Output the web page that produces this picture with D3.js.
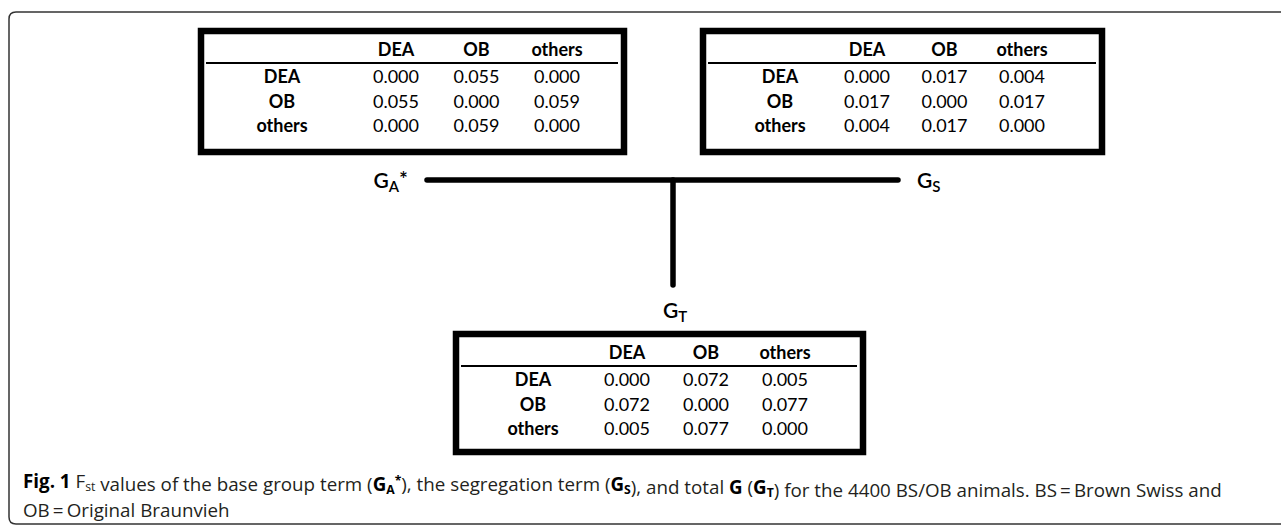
<!DOCTYPE html>
<html>
<head>
<meta charset="utf-8">
<script src="https://cdn.jsdelivr.net/npm/d3@7"></script>
<style>
body { margin: 0; background: #fff; }
svg { display: block; }
.cell { font-family: Lato, "Open Sans", sans-serif; font-size: 18px; fill: #000; }
.bold { font-weight: 700; }
.glabel { font-family: Lato, "Open Sans", sans-serif; font-size: 21px; font-weight: 600; fill: #000; }
.caption { font-family: "Open Sans", sans-serif; fill: #231f20; }
</style>
</head>
<body>
<svg id="fig" width="1281" height="525"></svg>
<script>
// breed groups (row and column headers of every table)
var groups = ["DEA", "OB", "others"];

// Fst values, rows and columns follow the groups order
var gaValues = [
	[0.000, 0.055, 0.000],
	[0.055, 0.000, 0.059],
	[0.000, 0.059, 0.000]
];
var gsValues = [
	[0.000, 0.017, 0.004],
	[0.017, 0.000, 0.017],
	[0.004, 0.017, 0.000]
];
var gtValues = [
	[0.000, 0.072, 0.005],
	[0.072, 0.000, 0.077],
	[0.005, 0.077, 0.000]
];

var captionLine2 = "OB = Original Braunvieh";

var svg = d3.select("#fig");
var fmt = d3.format(".3f");

// outer frame, only top and left side are inside the picture
svg.append("path")
	.attr("d", "M1290,12 L16,12 Q9,12 9,19 L9,517 Q9,524 16,524 L1290,524")
	.attr("fill", "none")
	.attr("stroke", "#333")
	.attr("stroke-width", 1.5);

var layout = {
	ga: {values: gaValues, x: 198, y: 28, w: 429, h: 127, labelX: 84, cols: [198, 359]},
	gs: {values: gsValues, x: 700, y: 28, w: 405, h: 127, labelX: 80, cols: [167, 322]},
	gt: {values: gtValues, x: 453, y: 331, w: 413, h: 124, labelX: 80, cols: [174, 332]}
};

function drawTable(t) {
	var g = svg.append("g").attr("transform", "translate(" + t.x + "," + t.y + ")");
	var col = d3.scalePoint().domain(groups).range(t.cols);
	var row = d3.scalePoint().domain(groups).range([49, 98]);

	g.append("rect")
		.attr("x", 3).attr("y", 3)
		.attr("width", t.w - 6).attr("height", t.h - 6)
		.attr("fill", "#fff")
		.attr("stroke", "#000")
		.attr("stroke-width", 6.5);

	g.append("line")
		.attr("x1", 8).attr("x2", t.w - 9)
		.attr("y1", 35).attr("y2", 35)
		.attr("stroke", "#000")
		.attr("stroke-width", 2);

	g.selectAll(".head")
		.data(groups)
		.enter().append("text")
		.attr("class", "cell bold")
		.attr("x", function(d) { return col(d); })
		.attr("y", 22)
		.attr("dy", "0.35em")
		.attr("text-anchor", "middle")
		.text(function(d) { return d; });

	var r = g.selectAll(".row")
		.data(groups)
		.enter().append("g")
		.attr("transform", function(d) { return "translate(0," + row(d) + ")"; });

	r.append("text")
		.attr("class", "cell bold")
		.attr("x", t.labelX)
		.attr("dy", "0.35em")
		.attr("text-anchor", "middle")
		.text(function(d) { return d; });

	r.selectAll(".val")
		.data(function(d, i) { return t.values[i]; })
		.enter().append("text")
		.attr("class", "cell")
		.attr("x", function(d, j) { return col(groups[j]); })
		.attr("dy", "0.35em")
		.attr("text-anchor", "middle")
		.text(function(d) { return fmt(d); });
}

drawTable(layout.ga);
drawTable(layout.gs);
drawTable(layout.gt);

// connectors
var hy = layout.ga.y + layout.ga.h + 25;
var midX = 673;
svg.append("line")
	.attr("x1", 427).attr("x2", 898)
	.attr("y1", hy).attr("y2", hy)
	.attr("stroke", "#000").attr("stroke-width", 5.5).attr("stroke-linecap", "round");
svg.append("line")
	.attr("x1", midX).attr("x2", midX)
	.attr("y1", hy).attr("y2", layout.gt.y - 46)
	.attr("stroke", "#000").attr("stroke-width", 5.5).attr("stroke-linecap", "round");

function gLabel(x, y, anchor, sub, star) {
	var t = svg.append("text")
		.attr("class", "glabel")
		.attr("x", x).attr("y", y)
		.attr("text-anchor", anchor);
	t.append("tspan").text("G");
	t.append("tspan").attr("font-size", "15px").attr("dy", 4).text(sub);
	if (star) t.append("tspan").attr("dy", -5).text("*");
}
gLabel(408, 188, "end", "A", true);
gLabel(917, 188, "start", "S", false);
gLabel(675, 318, "middle", "T", false);

// caption
var cap = svg.append("text")
	.attr("class", "caption")
	.attr("x", 23).attr("y", 488)
	.attr("font-size", "17px");

function part(txt, bold) {
	var s = cap.append("tspan").text(txt);
	if (bold) s.attr("font-weight", 700).attr("fill", "#000");
	return s;
}
function sub(txt, bold) {
	part(txt, bold).attr("font-size", "0.65em").attr("dy", 3);
}
function back() {
	cap.append("tspan").attr("dy", -3).text("");
}

part("Fig. 1", true);
part(" F");
sub("st");
back();
part(" values of the base group term (");
part("G", true);
sub("A", true);
cap.append("tspan").attr("font-size", "0.65em").attr("font-weight", 700).attr("fill", "#000").attr("dy", -9).text("*");
cap.append("tspan").attr("dy", 6).text("), the segregation term (");
part("G", true);
sub("S", true);
back();
part("), and total ");
part("G", true);
part(" (");
part("G", true);
sub("T", true);
back();
part(") for the 4400 BS/OB animals. BS\u2009=\u2009Brown Swiss and");

var line2 = svg.append("text")
	.attr("class", "caption")
	.attr("x", 23).attr("y", 517)
	.attr("font-size", "17px")
	.text(captionLine2.replace(/ = /, "\u2009=\u2009"));

// scale the caption so line 1 spans the same width as in the figure
var len = cap.node().getComputedTextLength();
var fs = 17 * 1200 / len;
cap.attr("font-size", fs + "px");
line2.attr("font-size", fs + "px");
</script>
</body>
</html>
